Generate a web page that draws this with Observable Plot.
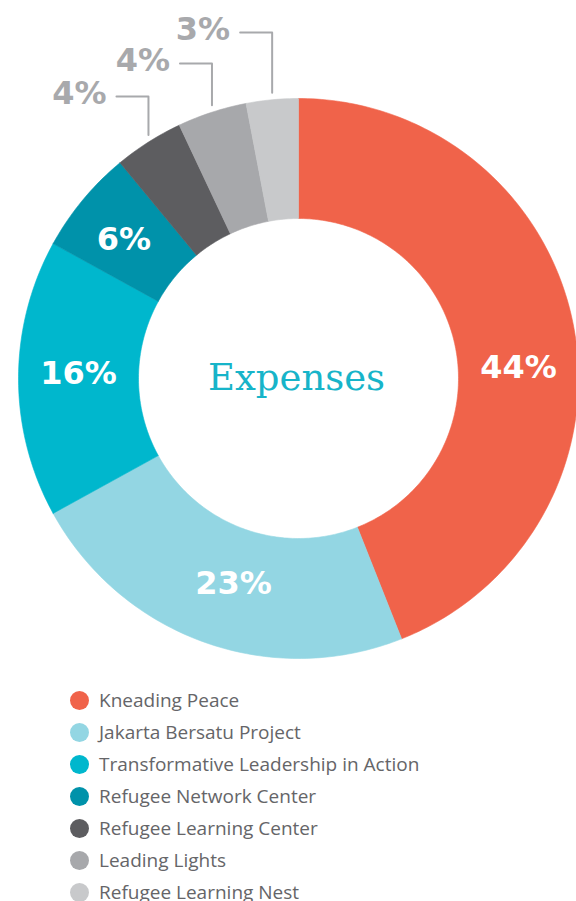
<!DOCTYPE html>
<html>
<head>
<meta charset="utf-8">
<script src="https://cdn.jsdelivr.net/npm/d3@7"></script>
<script src="https://cdn.jsdelivr.net/npm/@observablehq/plot@0.6"></script>
<style>
  html, body { margin: 0; padding: 0; background: #fff; width: 576px; height: 901px; overflow: hidden; }
  #chart svg { display: block; }
  #legend { padding-top: 4px; padding-left: 70px; font-family: "Open Sans", sans-serif; font-size: 19px; color: #656568; }
  .row { display: flex; align-items: center; height: 32px; }
  .dot { width: 19px; height: 19px; border-radius: 50%; margin-right: 10px; flex: none; }
</style>
</head>
<body>
<div id="chart"></div>
<div id="legend"></div>
<script>
// ---- data ----
const categories = ["Kneading Peace", "Jakarta Bersatu Project", "Transformative Leadership in Action",
  "Refugee Network Center", "Refugee Learning Center", "Leading Lights", "Refugee Learning Nest"];
const values = [44, 23, 16, 6, 4, 4, 3];
const labels = ["44%", "23%", "16%", "6%", "4%", "4%", "3%"];
const colors = ["#f0634a", "#93d6e3", "#00b7cd", "#0092aa", "#5d5d60", "#a7a8ab", "#c8c9cb"];
const centerTitle = "Expenses";

// ---- layout ----
const R_OUT = 280, R_IN = 160, R_LABEL = 220;
const outside = [false, false, false, false, true, true, true];
const leaderY = [null, null, null, null, -282, -315, -346];
const deg = Math.PI / 180;
const labelAngleOverride = {0: 88.5 * deg, 1: 197.2 * deg, 3: 307.5 * deg};

const data = categories.map((name, i) => ({name, value: values[i], label: labels[i], i}));
const pie = d3.pie().value(d => d.value).sort(null)(data);

// arc polygons
const polys = [];
pie.forEach(p => {
  const n = Math.max(8, Math.ceil((p.endAngle - p.startAngle) * 60));
  const pts = [];
  for (let k = 0; k <= n; k++) {
    const a = p.startAngle + (p.endAngle - p.startAngle) * k / n;
    pts.push({name: p.data.name, x: R_OUT * Math.sin(a), y: -R_OUT * Math.cos(a)});
  }
  for (let k = n; k >= 0; k--) {
    const a = p.startAngle + (p.endAngle - p.startAngle) * k / n;
    pts.push({name: p.data.name, x: R_IN * Math.sin(a), y: -R_IN * Math.cos(a)});
  }
  pts.push(pts[0]);
  polys.push(...pts);
});

const inside = pie.filter(p => !outside[p.data.i]).map(p => {
  const a = labelAngleOverride[p.data.i] ?? (p.startAngle + p.endAngle) / 2;
  return {label: p.data.label, x: R_LABEL * Math.sin(a), y: -R_LABEL * Math.cos(a) - 5};
});

const leaders = [];
const outLabels = [];
pie.filter(p => outside[p.data.i]).forEach(p => {
  const a = (p.startAngle + p.endAngle) / 2;
  const x = R_OUT * Math.sin(a), y = -R_OUT * Math.cos(a) - 7;
  const ly = leaderY[p.data.i];
  leaders.push({id: p.data.i, x, y}, {id: p.data.i, x, y: ly}, {id: p.data.i, x: x - 32, y: ly});
  outLabels.push({label: p.data.label, x: x - 42, y: ly - 3});
});

const chart = Plot.plot({
  width: 576, height: 680,
  margin: 0,
  x: {domain: [-298, 278], range: [0, 576], axis: null},
  y: {domain: [-378, 302], range: [0, 680], axis: null},
  color: {domain: categories, range: colors},
  marks: [
    Plot.line(polys, {x: "x", y: "y", z: "name", fill: "name", stroke: "name", strokeWidth: 0.6, curve: "linear"}),
    Plot.line(leaders, {x: "x", y: "y", z: "id", stroke: "#a8a9ac", strokeWidth: 2, curve: "linear"}),
    Plot.text(inside, {x: "x", y: "y", text: "label", fill: "white", fontSize: 32, fontWeight: "bold", fontFamily: "DejaVu Sans"}),
    Plot.text(outLabels, {x: "x", y: "y", text: "label", fill: "#a8a9ac", fontSize: 32, fontWeight: "bold", fontFamily: "DejaVu Sans", textAnchor: "end"}),
    Plot.text([centerTitle], {x: () => -2, y: () => 0, text: d => d, fill: "#17b4c9", fontSize: 37, fontFamily: "DejaVu Serif"})
  ]
});
document.getElementById("chart").appendChild(chart);

const legend = document.getElementById("legend");
categories.forEach((c, i) => {
  const row = document.createElement("div");
  row.className = "row";
  row.innerHTML = `<span class="dot" style="background:${colors[i]}"></span><span>${c}</span>`;
  legend.appendChild(row);
});
</script>
</body>
</html>
